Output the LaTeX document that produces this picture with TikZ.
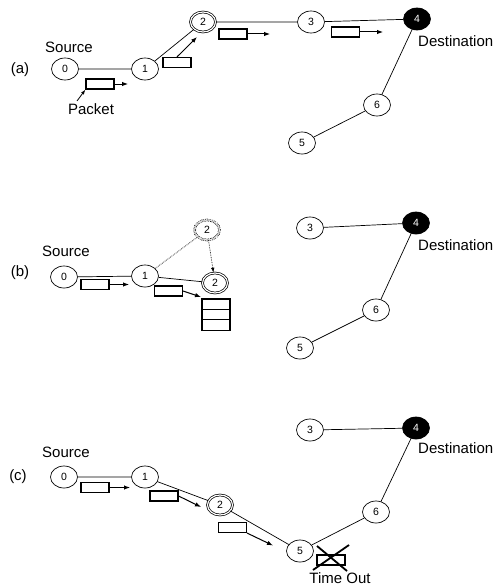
\documentclass[tikz,border=0pt]{standalone}
\usepackage{fontspec}
\setmainfont{Liberation Sans}
\usetikzlibrary{shapes.geometric,arrows.meta}
\begin{document}
\begin{tikzpicture}[x=1pt,y=-1pt,
  nd/.style={ellipse,draw,line width=0.7pt,minimum width=27pt,minimum height=22pt,inner sep=0pt,font=\fontsize{10.5}{12}\selectfont},
  dnd/.style={nd,minimum width=25pt,minimum height=20pt,double,double distance=1.2pt},
  ghost/.style={dnd,densely dotted},
  dst/.style={nd,fill=black,text=white},
  pkt/.style={rectangle,draw,line width=1.1pt,minimum width=28pt,minimum height=10pt,inner sep=0pt},
  slot/.style={pkt,minimum height=10.4pt},
  lbl/.style={font=\fontsize{15}{18}\selectfont,inner sep=0pt},
  link/.style={line width=0.7pt},
  mv/.style={line width=1pt,-{Latex[length=6pt,width=4.5pt]}},
  hint/.style={line width=0.7pt,densely dotted},
]
\useasboundingbox (0,0) rectangle (497,586);

% ---------------- (a) ----------------
\node[lbl] (la) at (20,70) {(a)};
\node[nd] (a0) at (65,69) {0};
\node[nd] (a1) at (145,69) {1};
\node[dnd] (a2) at (203,22) {2};
\node[nd] (a3) at (311,22) {3};
\node[dst] (a4) at (417,19) {4};
\node[nd] (a6) at (377,105) {6};
\node[nd] (a5) at (302,143) {5};
\node[lbl] (sa) at (69,47) {Source};
\node[lbl,anchor=west] (da) at (418,41) {Destination};
\node[lbl] (pk) at (91,109) {Packet};
\draw[link] (a0) -- (a1) -- (a2) -- (a3) -- (a4) -- (a6) -- (a5);

\node[pkt] (pa1) at (100,84) {};
\node[pkt] (pa2) at (177,62.5) {};
\node[pkt] (pa3) at (233,34) {};
\node[pkt] (pa4) at (345.5,32) {};
\coordinate (ea1) at (128,84);
\coordinate (ea2) at (197,37);
\coordinate (ea3) at (270,34);
\coordinate (ea4) at (383,32);
\coordinate (pkt0) at (77,101);
\draw[mv] (pa1.east) -- (ea1);
\draw[mv] (pa2.north) -- (ea2);
\draw[mv] (pa3.east) -- (ea3);
\draw[mv] (pa4.east) -- (ea4);
\draw[mv,line width=0.8pt,-{Latex[length=5pt,width=3.5pt]}] (pkt0) -- (pa1.south west);

% ---------------- (b) ----------------
\node[lbl] (lb) at (20,273) {(b)};
\node[nd] (b0) at (64,277) {0};
\node[nd] (b1) at (145,276) {1};
\node[ghost] (bg) at (207,230) {2};
\node[dnd] (b2) at (215,283) {2};
\node[nd] (b3) at (310,228) {3};
\node[dst] (b4) at (416,223) {4};
\node[nd] (b6) at (376,310) {6};
\node[nd] (b5) at (300,348) {5};
\node[lbl] (sb) at (66,251) {Source};
\node[lbl,anchor=west] (db) at (418,245) {Destination};
\draw[link] (b0) -- (b1) -- (b2);
\draw[hint] (b1) -- (bg);
\draw[hint,-{Latex[length=5pt,width=3.5pt]}] (bg) -- (b2);
\draw[link] (b3) -- (b4) -- (b6) -- (b5);

\node[pkt] (pb1) at (95,284.5) {};
\node[pkt] (pb2) at (168.5,291) {};
\coordinate (eb1) at (129,284.5);
\coordinate (eb2) at (201,297);
\draw[mv] (pb1.east) -- (eb1);
\draw[mv] (pb2.east) -- (eb2);
\node[slot] (q1) at (216,304.2) {};
\node[slot] (q2) at (216,314.6) {};
\node[slot] (q3) at (216,325) {};

% ---------------- (c) ----------------
\node[lbl] (lc) at (18,477) {(c)};
\node[nd] (c0) at (64,477) {0};
\node[nd] (c1) at (145,477) {1};
\node[dnd] (c2) at (220,505) {2};
\node[nd] (c5) at (300,551) {5};
\node[nd] (c3) at (310,430) {3};
\node[dst] (c4) at (416,428) {4};
\node[nd] (c6) at (376,512) {6};
\node[lbl] (sc) at (66,452) {Source};
\node[lbl,anchor=west] (dc) at (418,448) {Destination};
\draw[link] (c0) -- (c1) -- (c2) -- (c5) -- (c6) -- (c4) -- (c3);

\node[pkt] (pc1) at (95,487.5) {};
\node[pkt] (pc2) at (164,496) {};
\node[pkt] (pc3) at (232.5,527.5) {};
\coordinate (ec1) at (130,487.5);
\coordinate (ec2) at (201,507);
\coordinate (ec3) at (273,545.5);
\draw[mv] (pc1.east) -- (ec1);
\draw[mv] (pc2.east) -- (ec2);
\draw[mv] (pc3.south east) -- (ec3);

% dropped packet
\node[pkt] (lost) at (331,560) {};
\coordinate (x1) at (317,546);
\coordinate (x2) at (347,571);
\coordinate (x3) at (349,545);
\coordinate (x4) at (313,570);
\draw[line width=1.8pt] (x1) -- (x2);
\draw[line width=1.8pt] (x3) -- (x4);
\node[lbl] (to) at (340,578) {Time Out};
\end{tikzpicture}
\end{document}
